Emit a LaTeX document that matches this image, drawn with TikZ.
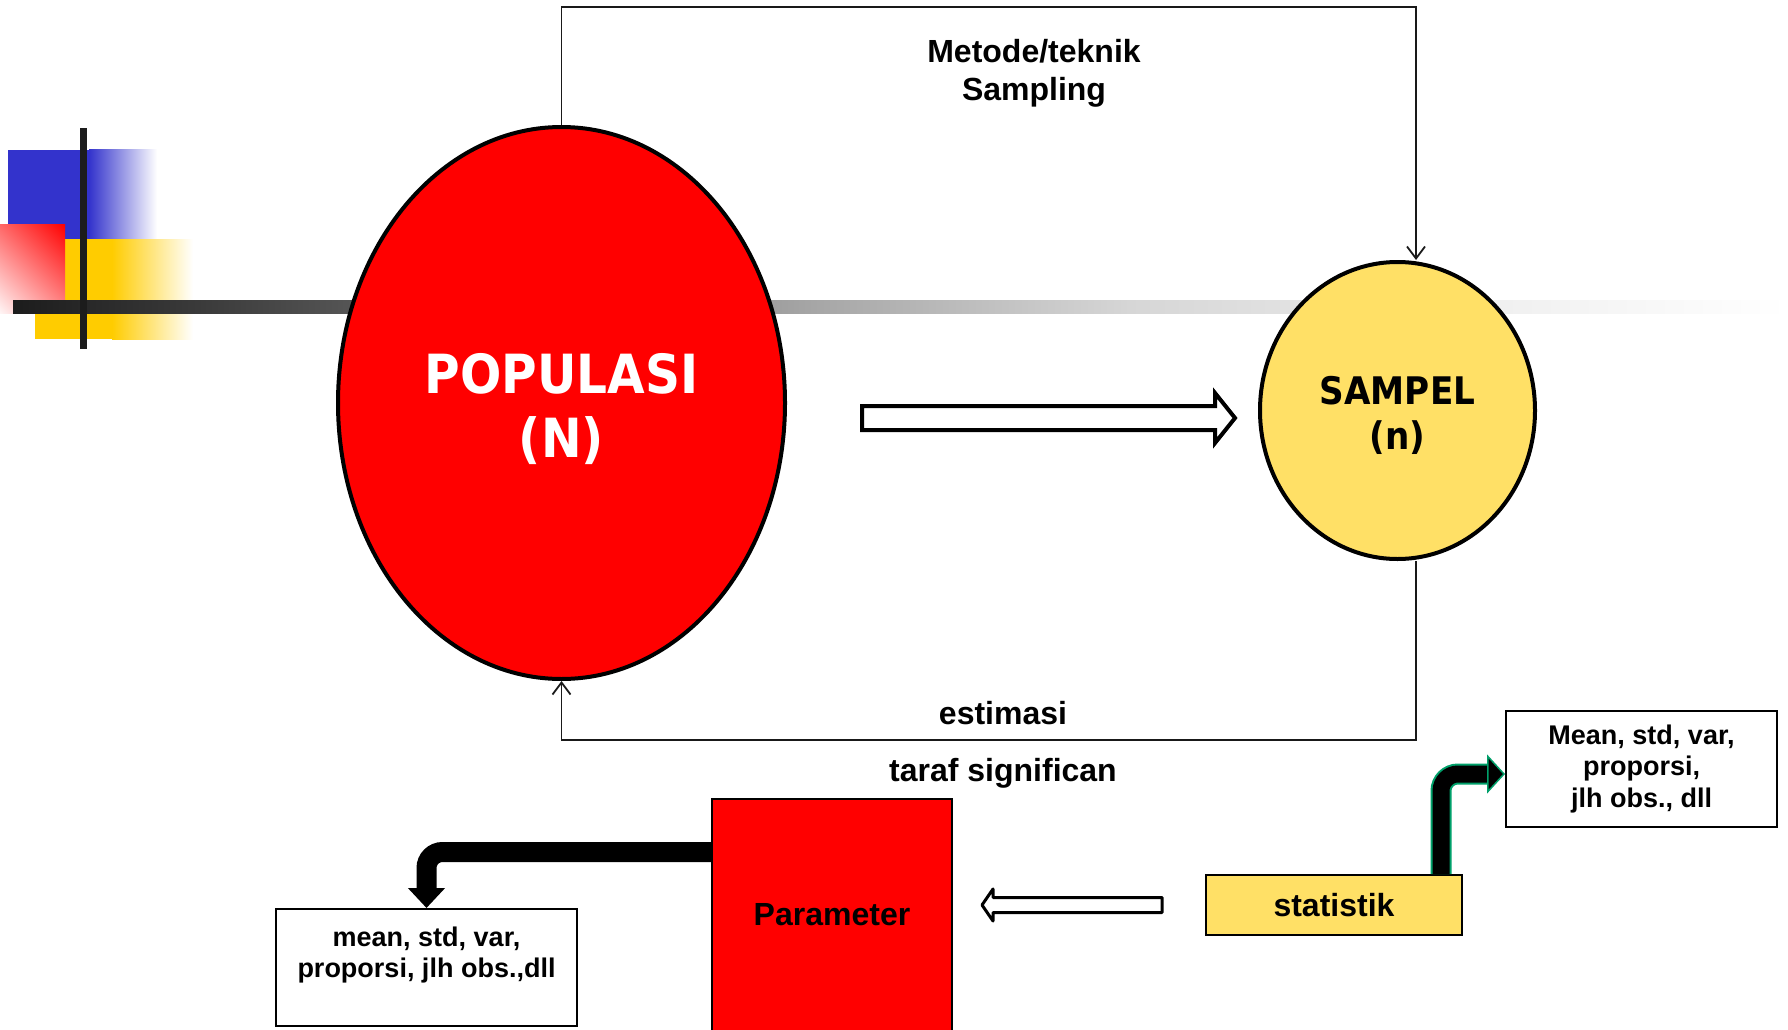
\documentclass[tikz,border=0pt]{standalone}
\usepackage{fontspec}
\setmainfont{Liberation Sans}
\newfontfamily\verdfont[FakeStretch=0.9]{DejaVu Sans}
\usetikzlibrary{shapes.geometric, arrows.meta, calc, positioning, shadings}
\definecolor{popred}{HTML}{FF0000}
\definecolor{samyel}{HTML}{FFE066}
\definecolor{decblue}{HTML}{3333CC}
\definecolor{decyel}{HTML}{FFCC00}
\definecolor{bardark}{HTML}{1C1C1C}
\definecolor{arrgreen}{HTML}{00A06A}
\pgfdeclarehorizontalshading{barfade}{100bp}{color(0bp)=(bardark); color(25bp)=(bardark); color(30.3bp)=(black!77); color(47.5bp)=(black!35); color(56.5bp)=(black!16); color(66.8bp)=(black!6); color(75bp)=(white); color(100bp)=(white)}
\tikzstyle{link} = [line width=1.8pt, draw=black!90, -{Straight Barb[length=12pt,width=18pt]}]
\tikzstyle{hollow} = [draw=black, fill=white]
\tikzstyle{fatarrow} = [line width=20pt, rounded corners=16pt, -{Triangle[width=36pt,length=20pt]}]

\begin{document}
\begin{tikzpicture}[
            x=1pt, y=-1pt,
            every node/.style={text centered, align=center, font=\bfseries},
            bignode/.style={ellipse, draw=black, line width=4pt, inner sep=0pt},
            boxnode/.style={rectangle, draw=black, line width=2pt, inner sep=0pt},
            valbox/.style={rectangle, draw=black, line width=2pt, fill=white, inner sep=0pt},
            lbl/.style={font=\bfseries\fontsize{32}{38}\selectfont}
        ]
            \useasboundingbox (0,0) rectangle (1788,1030);
            \clip (0,0) rectangle (1788,1030);

            % Corner marks
            \fill[decblue] (8,150) rectangle (89,239);
            \shade[left color=decblue, right color=white] (89,150) rectangle (157,239);
            \fill[decyel] (35,239) rectangle (112,339);
            \shade[left color=decyel, right color=white] (112,239) rectangle (193,339);
            \shade[upper left=red!60, upper right=red, lower left=red!4, lower right=red!45] (0,224) rectangle (65,313);
            \shade[shading=barfade] (13,300) rectangle (1788,313);
            \fill[bardark] (80,128) rectangle (87,349);

            % Nodes
            \node (pop) [bignode, fill=popred, minimum width=447pt, minimum height=552pt, text=white, font=\verdfont\bfseries\fontsize{54}{64}\selectfont] at (561.5,403) {\rule{0pt}{53pt}POPULASI\\(N)};
            \node (sam) [bignode, fill=samyel, minimum width=275pt, minimum height=297pt, font=\verdfont\bfseries\fontsize{38}{45}\selectfont] at (1397.5,410.5) {\rule{0pt}{38pt}SAMPEL\\(n)};
            \node (par) [boxnode, fill=popred, minimum width=240pt, minimum height=232pt, font=\bfseries\fontsize{32}{38}\selectfont] at (832,915) {Parameter};
            \node (stat) [boxnode, fill=samyel, minimum width=256pt, minimum height=60pt, font=\bfseries\fontsize{32}{38}\selectfont] at (1334,905) {statistik};
            \node (lbox) [valbox, minimum width=301pt, minimum height=117pt, font=\bfseries\fontsize{27}{31}\selectfont] at (426.5,967.5) {mean, std, var,\\proporsi, jlh obs.,dll\\\mbox{}};
            \node (rbox) [valbox, minimum width=271pt, minimum height=116pt, font=\bfseries\fontsize{27}{31.5}\selectfont] at (1641.5,769) {Mean, std, var,\\proporsi,\\jlh obs., dll};

            \node (meth) [lbl] at (1034,73) {Metode/teknik\\Sampling};
            \node (est) [lbl] at (1003,713) {estimasi};
            \node (taraf) [lbl] at (1003,773) {taraf significan};

            % Arrows
            \coordinate (tr) at (1416,7);
            \coordinate (br) at (1416,740);
            \draw [link] (pop.north) |- (tr) -- (tr |- sam.north);
            \draw [link] (br |- sam.south) -- (br) -| (pop.south);

            \draw [hollow, line width=4pt] (862,406) -- (1215,406) -- (1215,393) -- (1235,418) -- (1215,443) -- (1215,430) -- (862,430) -- cycle;
            \draw [hollow, line width=3pt, line join=round] (1162,897.5) -- (993,897.5) -- (993,889) -- (982,905) -- (993,921) -- (993,912.5) -- (1162,912.5) -- cycle;

            \draw [fatarrow] ([yshift=-54pt]par.north west) -| (lbox.north);
            \draw [arrgreen, line width=21pt, rounded corners=17pt, shorten >=18pt] ([xshift=107pt]stat.north) |- ([yshift=-5pt]rbox.west);
            \draw [line width=17pt, rounded corners=17pt, -{Triangle[width=39pt,length=18pt,fill=black,color=arrgreen,line width=1.5pt]}] ([xshift=107pt]stat.north) |- ([yshift=-5pt]rbox.west);
        \end{tikzpicture}
\end{document}
